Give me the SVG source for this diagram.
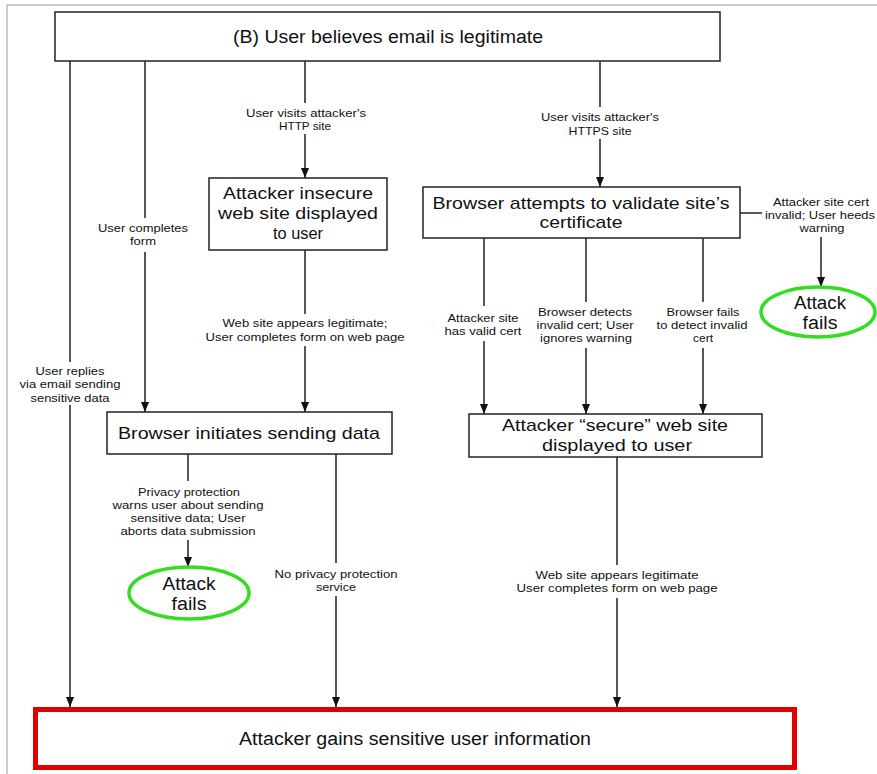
<svg xmlns="http://www.w3.org/2000/svg" width="877" height="774" viewBox="0 0 877 774">
<style>
text{font-family:"Liberation Sans",Arial,sans-serif;fill:#111;text-anchor:middle}
.s{font-size:11px}
.b{font-size:17px}
.l{font-size:18px}
.box{fill:#fff;stroke:#222;stroke-width:1.5}
.ok{fill:#fff;stroke:#33dd22;stroke-width:3.5}
.c line{stroke:#111;stroke-width:1.4}
</style>
<defs>
<marker id="ah" markerUnits="userSpaceOnUse" markerWidth="10" markerHeight="10" refX="10" refY="4" orient="auto">
<path d="M0,0 L10,4 L0,8 z" fill="#111"/>
</marker>
</defs>
<rect width="877" height="774" fill="#fff"/>
<path d="M7,774 V5 H877" fill="none" stroke="#999" stroke-width="1"/>

<g class="c" id="connectors">
<line x1="70" y1="61" x2="70" y2="362"/>
<line x1="70" y1="405" x2="70" y2="707" marker-end="url(#ah)"/>
<line x1="145" y1="61" x2="145" y2="218"/>
<line x1="145" y1="252" x2="145" y2="412" marker-end="url(#ah)"/>
<line x1="305" y1="61" x2="305" y2="103"/>
<line x1="305" y1="134" x2="305" y2="178" marker-end="url(#ah)"/>
<line x1="600" y1="61" x2="600" y2="107"/>
<line x1="600" y1="139" x2="600" y2="187" marker-end="url(#ah)"/>
<line x1="305" y1="250" x2="305" y2="314"/>
<line x1="305" y1="346" x2="305" y2="412" marker-end="url(#ah)"/>
<line x1="188" y1="454" x2="188" y2="481"/>
<line x1="188" y1="540" x2="188" y2="567" marker-end="url(#ah)"/>
<line x1="336" y1="454" x2="336" y2="563"/>
<line x1="336" y1="596" x2="336" y2="707" marker-end="url(#ah)"/>
<line x1="617" y1="457" x2="617" y2="565"/>
<line x1="617" y1="598" x2="617" y2="707" marker-end="url(#ah)"/>
<line x1="740" y1="213" x2="762" y2="213"/>
<line x1="821" y1="237" x2="821" y2="287" marker-end="url(#ah)"/>
<line x1="484" y1="238" x2="484" y2="306"/>
<line x1="484" y1="341" x2="484" y2="414" marker-end="url(#ah)"/>
<line x1="586" y1="238" x2="586" y2="302"/>
<line x1="586" y1="348" x2="586" y2="414" marker-end="url(#ah)"/>
<line x1="703" y1="238" x2="703" y2="302"/>
<line x1="703" y1="348" x2="703" y2="414" marker-end="url(#ah)"/>

<text class="s" x="70" y="375" textLength="69" lengthAdjust="spacingAndGlyphs">User replies</text>
<text class="s" x="70" y="388" textLength="101" lengthAdjust="spacingAndGlyphs">via email sending</text>
<text class="s" x="70" y="402" textLength="79" lengthAdjust="spacingAndGlyphs">sensitive data</text>
<text class="s" x="143" y="232" textLength="90" lengthAdjust="spacingAndGlyphs">User completes</text>
<text class="s" x="143" y="245" textLength="26" lengthAdjust="spacingAndGlyphs">form</text>
<text class="s" x="306" y="117" textLength="120" lengthAdjust="spacingAndGlyphs">User visits attacker's</text>
<text class="s" x="305" y="130" textLength="52" lengthAdjust="spacingAndGlyphs">HTTP site</text>
<text class="s" x="600" y="121" textLength="118" lengthAdjust="spacingAndGlyphs">User visits attacker's</text>
<text class="s" x="600" y="135" textLength="63" lengthAdjust="spacingAndGlyphs">HTTPS site</text>
<text class="s" x="305" y="327" textLength="165" lengthAdjust="spacingAndGlyphs">Web site appears legitimate;</text>
<text class="s" x="305" y="341" textLength="199" lengthAdjust="spacingAndGlyphs">User completes form on web page</text>
<text class="s" x="821" y="206" textLength="96" lengthAdjust="spacingAndGlyphs">Attacker site cert</text>
<text class="s" x="820" y="219" textLength="110" lengthAdjust="spacingAndGlyphs">invalid; User heeds</text>
<text class="s" x="822" y="232" textLength="45" lengthAdjust="spacingAndGlyphs">warning</text>
<text class="s" x="483" y="322" textLength="71" lengthAdjust="spacingAndGlyphs">Attacker site</text>
<text class="s" x="483" y="335" textLength="77" lengthAdjust="spacingAndGlyphs">has valid cert</text>
<text class="s" x="585" y="316" textLength="94" lengthAdjust="spacingAndGlyphs">Browser detects</text>
<text class="s" x="585" y="329" textLength="97" lengthAdjust="spacingAndGlyphs">invalid cert; User</text>
<text class="s" x="586" y="342" textLength="92" lengthAdjust="spacingAndGlyphs">ignores warning</text>
<text class="s" x="703" y="316" textLength="73" lengthAdjust="spacingAndGlyphs">Browser fails</text>
<text class="s" x="702" y="329" textLength="91" lengthAdjust="spacingAndGlyphs">to detect invalid</text>
<text class="s" x="703" y="342" textLength="20" lengthAdjust="spacingAndGlyphs">cert</text>
<text class="s" x="189" y="496" textLength="102" lengthAdjust="spacingAndGlyphs">Privacy protection</text>
<text class="s" x="188" y="509" textLength="151" lengthAdjust="spacingAndGlyphs">warns user about sending</text>
<text class="s" x="188" y="522" textLength="115" lengthAdjust="spacingAndGlyphs">sensitive data; User</text>
<text class="s" x="188" y="535" textLength="135" lengthAdjust="spacingAndGlyphs">aborts data submission</text>
<text class="s" x="336" y="578" textLength="123" lengthAdjust="spacingAndGlyphs">No privacy protection</text>
<text class="s" x="336" y="591" textLength="40" lengthAdjust="spacingAndGlyphs">service</text>
<text class="s" x="617" y="579" textLength="163" lengthAdjust="spacingAndGlyphs">Web site appears legitimate</text>
<text class="s" x="617" y="592" textLength="201" lengthAdjust="spacingAndGlyphs">User completes form on web page</text>
</g>

<g id="n-believes">
<rect class="box" x="55" y="12" width="665" height="49"/>
<text class="l" x="388" y="42.5" textLength="310" lengthAdjust="spacingAndGlyphs">(B) User believes email is legitimate</text>
</g>

<g id="n-insecure">
<rect class="box" x="209" y="178" width="178" height="72"/>
<text class="b" x="298" y="199" textLength="150" lengthAdjust="spacingAndGlyphs">Attacker insecure</text>
<text class="b" x="298" y="219" textLength="160" lengthAdjust="spacingAndGlyphs">web site displayed</text>
<text class="b" x="298" y="239" textLength="50" lengthAdjust="spacingAndGlyphs">to user</text>
</g>

<g id="n-initiates">
<rect class="box" x="107" y="412" width="285" height="42"/>
<text class="b" x="249" y="439" textLength="262" lengthAdjust="spacingAndGlyphs">Browser initiates sending data</text>
</g>

<g id="n-validate">
<rect class="box" x="423" y="187" width="317" height="51"/>
<text class="b" x="581" y="209" textLength="297" lengthAdjust="spacingAndGlyphs">Browser attempts to validate site’s</text>
<text class="b" x="581" y="228" textLength="83" lengthAdjust="spacingAndGlyphs">certificate</text>
</g>

<g id="n-secure">
<rect class="box" x="469" y="414" width="293" height="43"/>
<text class="b" x="615" y="431" textLength="226" lengthAdjust="spacingAndGlyphs">Attacker “secure” web site</text>
<text class="b" x="617" y="451" textLength="150" lengthAdjust="spacingAndGlyphs">displayed to user</text>
</g>

<g id="n-fails-1">
<ellipse class="ok" cx="189" cy="593" rx="60" ry="26"/>
<text class="l" x="189" y="589.5" textLength="53" lengthAdjust="spacingAndGlyphs">Attack</text>
<text class="l" x="189" y="609.5" textLength="35" lengthAdjust="spacingAndGlyphs">fails</text>
</g>

<g id="n-fails-2">
<ellipse class="ok" cx="818" cy="312" rx="57" ry="25"/>
<text class="l" x="820" y="308.5" textLength="52" lengthAdjust="spacingAndGlyphs">Attack</text>
<text class="l" x="820" y="328.5" textLength="35" lengthAdjust="spacingAndGlyphs">fails</text>
</g>

<g id="n-gains">
<rect x="35.5" y="709.5" width="759" height="58" fill="#fff" stroke="#e00000" stroke-width="5"/>
<text class="l" x="415" y="744.5" textLength="352" lengthAdjust="spacingAndGlyphs">Attacker gains sensitive user information</text>
</g>
</svg>
